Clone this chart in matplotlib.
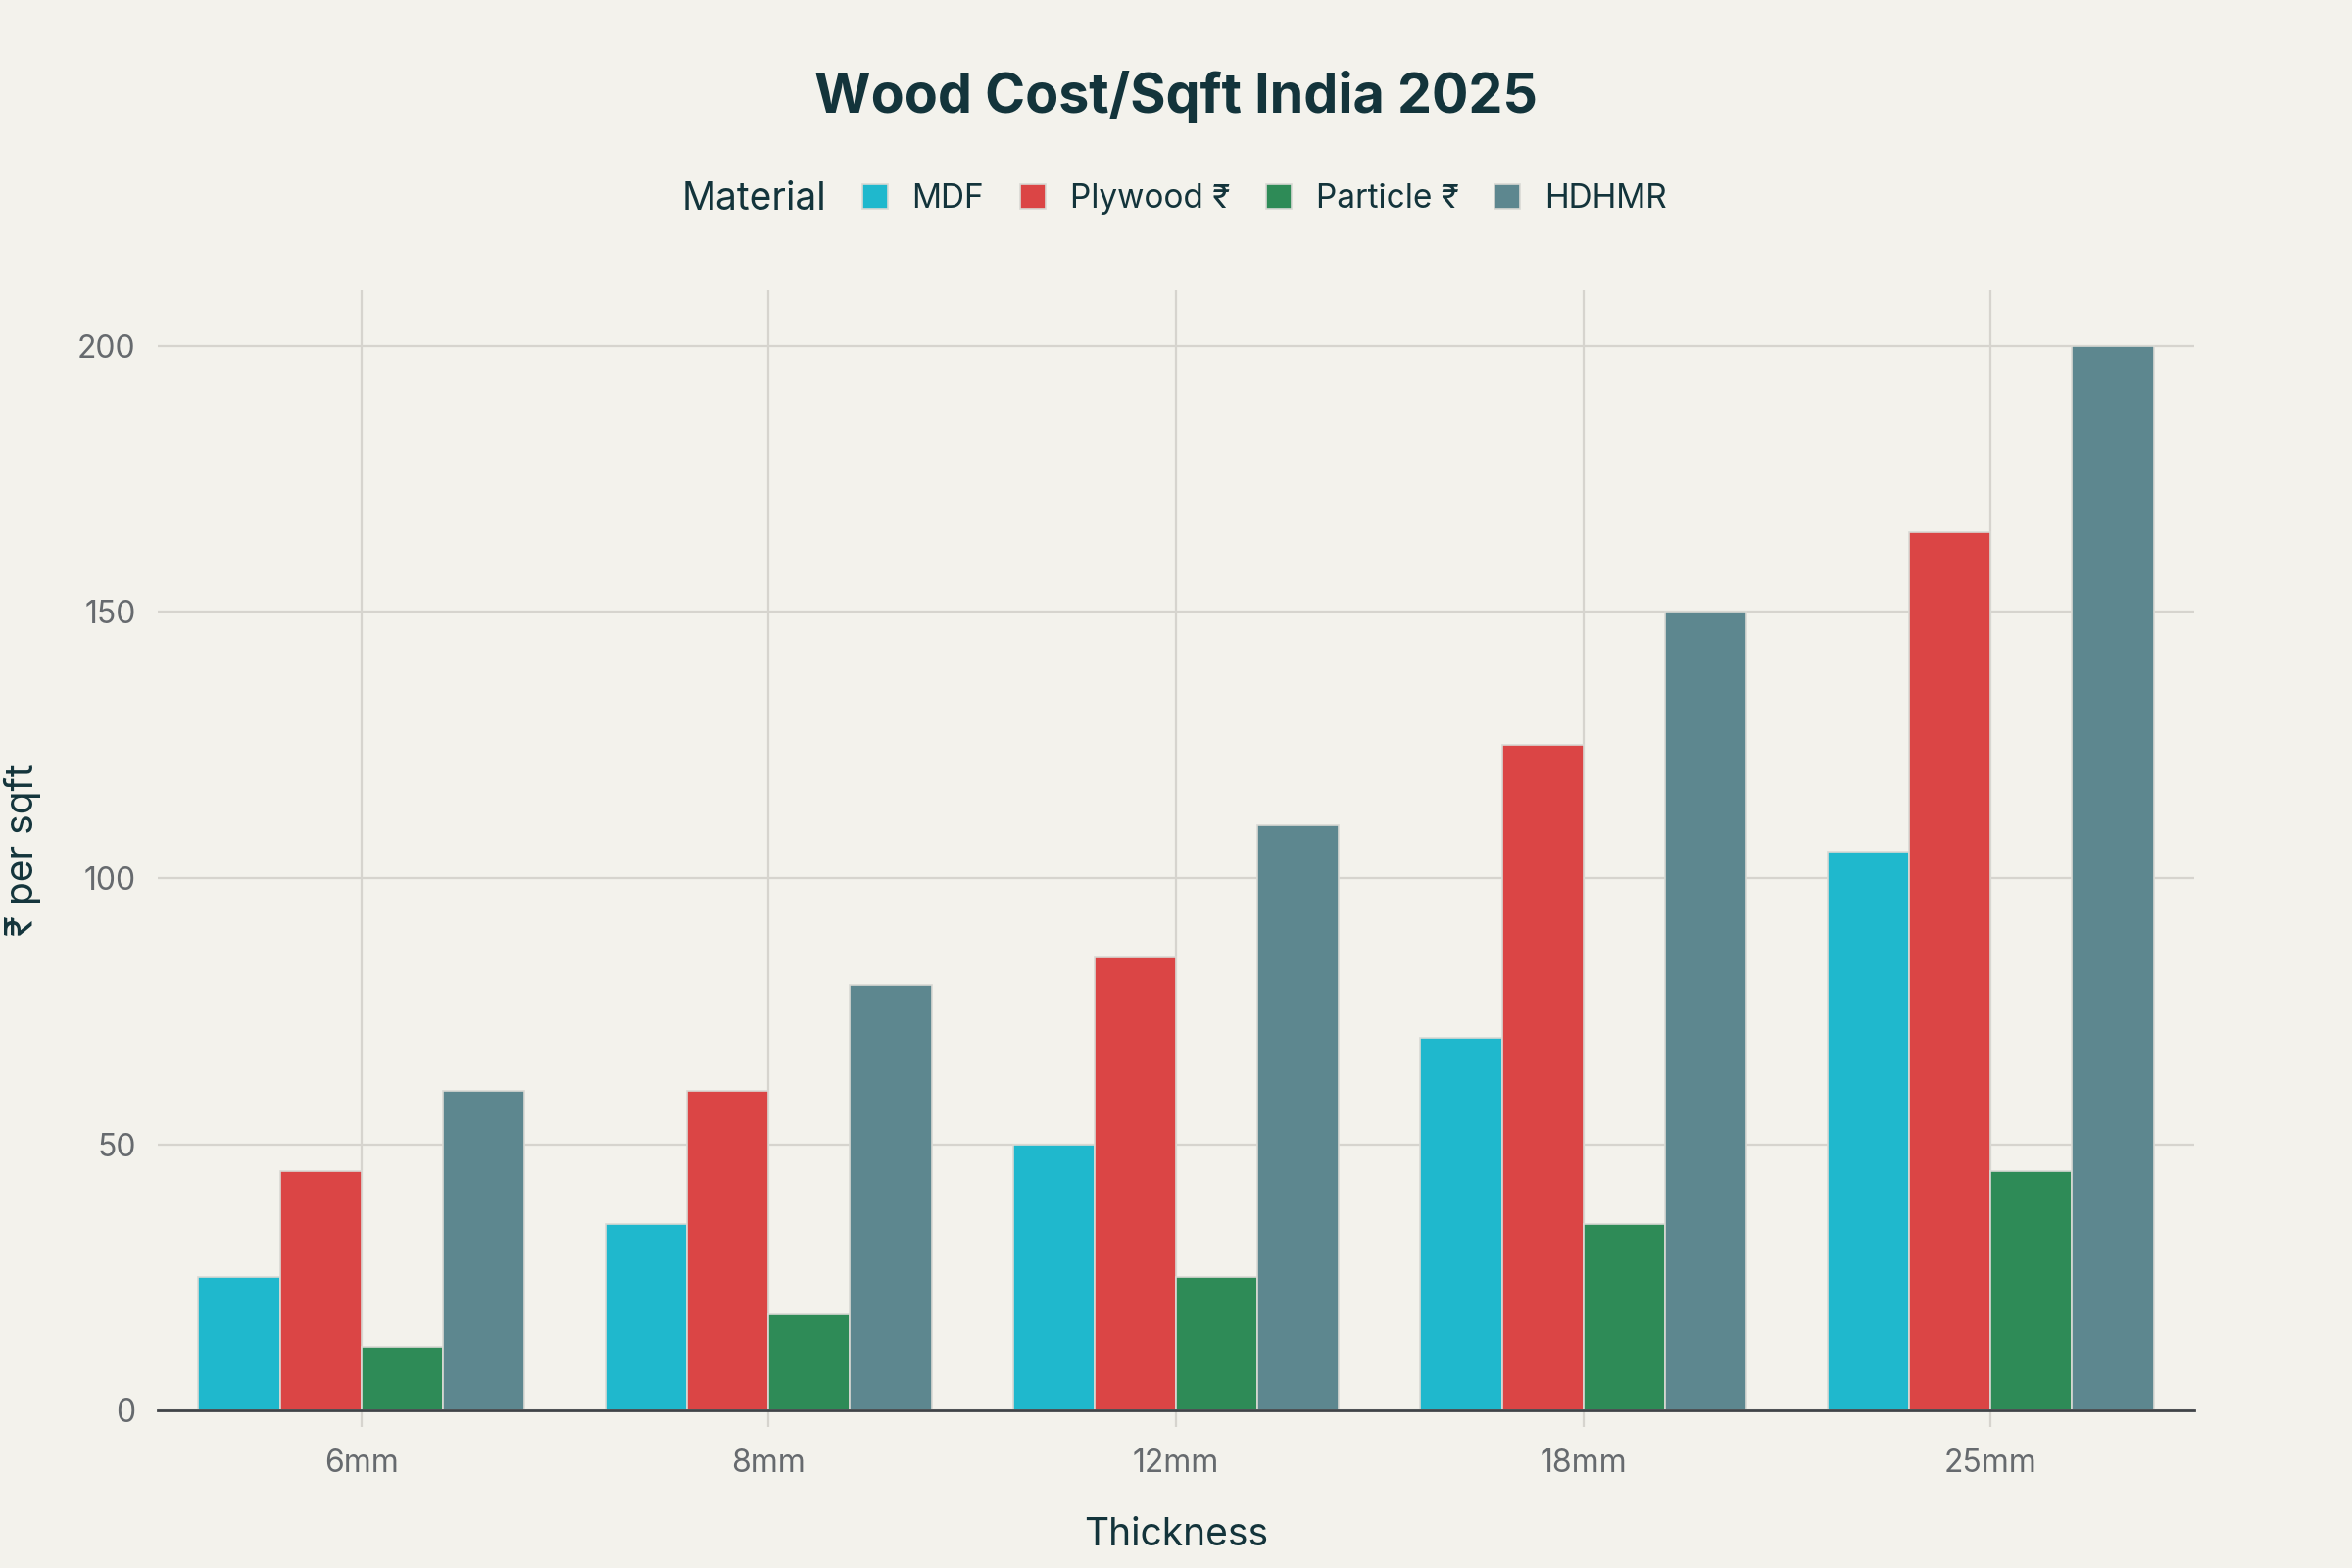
import numpy as np
import matplotlib
matplotlib.use("Agg")
import matplotlib.pyplot as plt

plt.rcParams['font.family'] = ['Inter', 'DejaVu Sans']

thickness = ["6mm", "8mm", "12mm", "18mm", "25mm"]
materials = ["MDF", "Plywood ₹", "Particle ₹", "HDHMR"]
mdf = [25, 35, 50, 70, 105]
plywood = [45, 60, 85, 125, 165]
particle = [12, 18, 25, 35, 45]
hdhmr = [60, 80, 110, 150, 200]
colors = ["#1fb8cd", "#db4545", "#2e8b57", "#5d878f"]

bg = "#f3f2ec"
dark = "#13343b"

fig = plt.figure(figsize=(12, 8), dpi=200, facecolor=bg)
ax = fig.add_axes([0.067, 0.1005, 0.866, 0.7145], facecolor=bg)

x = np.arange(len(thickness))
w = 0.2
series = [mdf, plywood, particle, hdhmr]
handles = []
for i, (vals, c) in enumerate(zip(series, colors)):
    b = ax.bar(x + (i - 1.5) * w, vals, w, color=c, edgecolor="#d9d9d4",
               linewidth=0.6, zorder=3, label=materials[i])
    handles.append(b)

ax.set_xlim(-0.5, 4.5)
ax.set_ylim(0, 210.4)
ax.set_xticks(x)
ax.set_xticklabels(thickness)
ax.set_yticks([0, 50, 100, 150, 200])
ax.grid(True, color="#d6d4ce", linewidth=0.8, zorder=0)
ax.tick_params(axis="both", colors="#d6d4ce", labelcolor="#666a6e", labelsize=11.5)
ax.tick_params(axis="y", length=0, pad=8)
ax.tick_params(axis="x", length=6, pad=8)
for s in ["top", "right", "left"]:
    ax.spines[s].set_visible(False)
ax.spines["bottom"].set_color("#404448")
ax.spines["bottom"].set_linewidth(1.0)
ax.spines["bottom"].set_zorder(4)

ax.set_xlabel("Thickness", fontsize=14, color=dark)
ax.set_ylabel("₹ per sqft", fontsize=14, color=dark)
ax.xaxis.set_label_coords(0.5, -0.095)
ax.yaxis.set_label_coords(-0.057, 0.5)

fig.text(0.5, 0.938, "Wood Cost/Sqft India 2025", ha="center", va="center",
         fontsize=20, fontweight="bold", color=dark)

fig.text(0.29, 0.873, "Material", ha="left", va="center", fontsize=14, color=dark)
fig.legend(handles=handles, labels=materials, loc="center", bbox_to_anchor=(0.5376, 0.873),
           ncol=4, frameon=False, fontsize=12, labelcolor=dark, handlelength=0.78,
           handleheight=0.78, handletextpad=0.75, columnspacing=1.1)

fig.savefig("out.png", dpi=200, facecolor=bg)
